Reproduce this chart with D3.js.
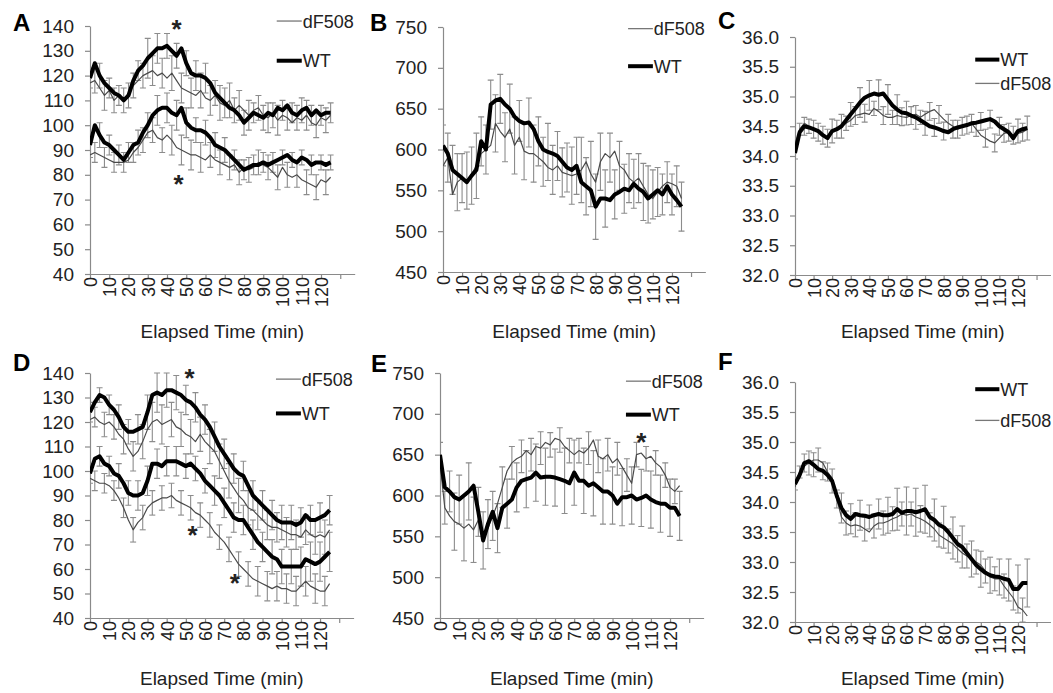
<!DOCTYPE html>
<html>
<head>
<meta charset="utf-8">
<script src="https://cdn.jsdelivr.net/npm/d3@7"></script>
<style>
  body { margin: 0; background: #fff; }
  text { font-family: "Liberation Sans", Arial, sans-serif; fill: #222; }
</style>
</head>
<body>
<svg id="chart" width="1053" height="693"></svg>
<script>
// sample times (min)
const minutes = [0,2.5,5,7.5,10,12.5,15,17.5,20,22.5,25,27.5,30,32.5,35,37.5,40,42.5,45,47.5,50,52.5,55,57.5,60,62.5,65,67.5,70,72.5,75,77.5,80,82.5,85,87.5,90,92.5,95,97.5,100,102.5,105,107.5,110,112.5,115,117.5,120,122.5,125];
// error bars every 5 min
const errMinutes = [0,5,10,15,20,25,30,35,40,45,50,55,60,65,70,75,80,85,90,95,100,105,110,115,120,125];
const xTicks = [0,10,20,30,40,50,60,70,80,90,100,110,120,130];

// A - blood pressure, first condition
const aWtSys = [119,125,120,117,115,113,112,110,112,118,122,124,127,129,131,131,132,130,128,131,125,121,120,120,119,117,113,111,109,107,106,104,101,103,105,104,103,105,104,107,106,108,105,104,106,107,104,106,104,105,105];
const aDfSys = [117,118,115,112,114,110,112,110,113,116,118,120,121,122,120,121,119,121,118,115,114,113,112,114,111,110,112,109,108,110,106,108,106,104,106,107,104,103,105,102,104,103,101,103,102,104,101,100,103,102,104];
const aWtDia = [92,100,96,93,92,90,88,86,89,92,93,97,100,104,106,107,107,105,104,107,101,99,98,98,97,95,92,91,90,88,86,84,82,83,84,84,85,84,85,86,87,88,86,85,87,86,84,85,85,84,85];
const aDfDia = [88,89,88,87,86,85,85,85,86,89,91,94,97,98,95,94,96,94,91,90,89,88,88,87,86,88,86,85,84,83,84,81,83,82,83,85,84,83,81,79,83,80,79,80,78,77,76,75,78,77,79];
const aWtSysErr = [4,5,4,4,5,4,8,6,5,5,5,6,6,5,6,5,5,4,5,5,4,4,5,4,4,4];
const aDfSysErr = [5,6,5,5,5,5,6,6,7,6,6,7,6,7,7,6,6,5,6,6,5,5,6,5,5,5];
const aWtDiaErr = [5,5,4,4,4,5,5,6,6,6,6,5,5,5,5,4,4,4,4,4,3,3,3,4,3,3];
const aDfDiaErr = [4,4,4,4,4,5,5,5,6,6,6,6,5,5,5,5,5,5,5,5,5,5,5,5,5,5];

// B - heart rate, first condition
const bWt = [605,595,575,570,565,560,568,575,610,600,655,660,662,655,650,640,635,632,633,625,610,600,597,595,592,585,578,575,580,560,555,550,530,540,540,538,545,548,552,550,558,552,548,540,545,550,545,555,545,538,530];
const bDf = [580,590,545,560,565,562,570,580,595,600,605,632,622,615,625,605,615,598,595,595,590,585,578,575,580,572,570,568,570,575,585,570,560,585,595,590,598,580,575,565,560,565,555,545,540,548,555,560,558,555,540];
const bWtErr = [25,30,30,35,30,30,30,30,25,30,30,35,30,30,35,35,40,35,30,30,30,35,30,25,25,30];
const bDfErr = [30,35,35,40,30,35,30,35,35,35,30,30,30,35,40,40,35,30,30,30,30,35,30,25,25,30];

// C - body temperature, first condition
const cWt = [34.05,34.4,34.5,34.48,34.45,34.42,34.35,34.3,34.42,34.45,34.5,34.6,34.7,34.8,34.9,34.98,35.02,35.05,35.03,35.05,34.95,34.85,34.78,34.73,34.72,34.68,34.65,34.6,34.55,34.5,34.48,34.45,34.42,34.4,34.45,34.48,34.5,34.52,34.55,34.56,34.58,34.6,34.62,34.58,34.5,34.45,34.4,34.3,34.42,34.45,34.47];
const cDf = [34.2,34.45,34.55,34.5,34.45,34.4,34.35,34.3,34.4,34.45,34.5,34.55,34.6,34.68,34.7,34.72,34.7,34.8,34.75,34.68,34.65,34.65,34.68,34.66,34.65,34.68,34.7,34.65,34.7,34.75,34.78,34.7,34.62,34.55,34.5,34.45,34.5,34.52,34.55,34.45,34.35,34.3,34.25,34.22,34.3,34.38,34.4,34.35,34.38,34.4,34.45];
const cWtErr = [0.1,0.15,0.15,0.15,0.2,0.2,0.2,0.25,0.25,0.25,0.25,0.25,0.2,0.2,0.2,0.15,0.15,0.15,0.15,0.15,0.15,0.15,0.15,0.15,0.2,0.2];
const cDfErr = [0.1,0.12,0.15,0.15,0.15,0.12,0.15,0.15,0.12,0.15,0.12,0.15,0.15,0.12,0.15,0.15,0.15,0.15,0.15,0.12,0.15,0.15,0.15,0.15,0.15,0.15];

// D - blood pressure, second condition
const dWtSys = [124,128,131,130,127,125,122,118,116,116,117,118,124,131,132,131,133,133,132,131,129,128,126,123,121,118,114,110,107,104,101,99,98,94,90,88,86,84,82,80,79,79,79,78,79,82,80,80,81,82,84];
const dDfSys = [121,122,120,119,120,118,115,113,109,106,108,112,117,120,121,119,120,121,118,117,115,114,112,115,112,110,108,104,100,96,93,90,88,85,84,82,80,78,77,77,76,75,74,74,73,76,74,73,74,73,76];
const dWtDia = [99,105,106,103,102,99,98,95,91,90,90,91,96,103,103,102,104,104,104,103,102,103,101,99,96,94,92,90,87,84,81,80,80,77,74,71,69,67,65,64,61,61,61,61,61,64,63,62,63,65,67];
const dDfDia = [97,96,95,95,94,92,89,85,80,76,79,81,85,87,88,89,89,90,88,87,86,85,83,82,80,78,75,73,71,68,65,62,60,58,56,55,54,53,52,53,52,52,51,51,53,55,53,52,51,51,54];
const dWtSysErr = [4,3,4,5,5,6,7,8,7,7,6,6,6,6,6,6,6,6,6,6,7,7,6,6,6,6];
const dDfSysErr = [4,5,5,6,6,7,8,8,7,7,7,7,7,7,7,7,7,6,6,6,6,6,6,7,7,7];
const dWtDiaErr = [4,4,4,5,5,6,6,6,6,6,5,5,5,6,6,6,6,6,6,7,7,7,8,8,8,8];
const dDfDiaErr = [4,4,4,4,5,5,5,5,5,5,5,5,5,5,5,5,5,6,6,6,6,6,6,6,6,6];

// E - heart rate, second condition
const eWt = [650,610,605,598,595,600,605,612,580,545,565,580,560,585,590,595,610,618,620,622,628,622,623,623,622,620,618,615,628,618,618,612,615,610,605,605,600,590,598,598,600,595,597,600,595,592,590,590,585,585,575];
const eDf = [640,585,575,568,565,560,565,558,570,545,560,575,590,610,630,640,645,648,655,650,660,658,665,662,670,668,660,655,650,655,652,658,668,648,645,650,640,645,635,625,615,650,652,645,648,640,635,625,610,605,612];
const eWtErr = [15,25,30,35,30,30,30,30,30,35,35,35,35,40,40,40,40,40,35,35,35,35,35,35,35,30];
const eDfErr = [20,35,40,40,35,30,25,20,20,20,20,15,15,15,15,20,20,20,20,20,15,15,15,15,15,15];

// F - body temperature, second condition
const fWt = [34.3,34.45,34.65,34.68,34.62,34.55,34.52,34.45,34.35,34.1,33.9,33.78,33.72,33.8,33.78,33.77,33.75,33.78,33.8,33.78,33.78,33.8,33.88,33.82,33.85,33.85,33.83,33.85,33.88,33.75,33.7,33.62,33.58,33.5,33.4,33.3,33.25,33.15,33.05,32.95,32.88,32.82,32.78,32.76,32.75,32.72,32.7,32.55,32.55,32.65,32.65];
const fDf = [34.25,34.5,34.6,34.65,34.7,34.7,34.65,34.5,34.4,34.05,33.75,33.65,33.6,33.62,33.6,33.55,33.5,33.6,33.65,33.65,33.68,33.72,33.75,33.8,33.78,33.8,33.75,33.72,33.68,33.62,33.55,33.45,33.4,33.35,33.3,33.22,33.15,33.1,33.05,33.0,32.95,32.85,32.75,32.72,32.72,32.6,32.5,32.4,32.25,32.2,32.1];
const fWtErr = [0.1,0.15,0.2,0.15,0.2,0.25,0.25,0.25,0.2,0.25,0.3,0.35,0.4,0.4,0.4,0.35,0.35,0.35,0.35,0.3,0.3,0.3,0.3,0.35,0.4,0.4];
const fDfErr = [0.1,0.2,0.2,0.15,0.15,0.2,0.2,0.2,0.2,0.2,0.2,0.2,0.2,0.22,0.2,0.2,0.2,0.22,0.2,0.2,0.2,0.2,0.2,0.2,0.2,0.2];

const bpTicks = [40,50,60,70,80,90,100,110,120,130,140];
const hrTicks = [450,500,550,600,650,700,750];
const tTicks = [32,32.5,33,33.5,34,34.5,35,35.5,36];

const svg = d3.select("#chart");

const panels = [
  { id: "A", lx: 13, ly: 31, x0: 90, k: 1.925, top: 26, bot: 274, ticks: bpTicks, fmt: d3.format("d"),
    thin: [[aDfSys, aDfSysErr], [aDfDia, aDfDiaErr]], thick: [[aWtSys, aWtSysErr], [aWtDia, aWtDiaErr]],
    legend: [["dF508", 142, false], ["WT", 126, true]], stars: [[45, 141.5], [46, 79]], title: 338 },
  { id: "B", lx: 370, ly: 31, x0: 443, k: 1.908, top: 27, bot: 272, ticks: hrTicks, fmt: d3.format("d"),
    thin: [[bDf, bDfErr]], thick: [[bWt, bWtErr]],
    legend: [["dF508", 748, false], ["WT", 702, true]], stars: [], title: 338 },
  { id: "C", lx: 718, ly: 29, x0: 795, k: 1.858, top: 37, bot: 275, ticks: tTicks, fmt: d3.format(".1f"),
    thin: [[cDf, cDfErr]], thick: [[cWt, cWtErr]],
    legend: [["WT", 35.62, true], ["dF508", 35.22, false]], stars: [], title: 338 },
  { id: "D", lx: 13, ly: 371, x0: 90, k: 1.917, top: 373, bot: 618, ticks: bpTicks, fmt: d3.format("d"),
    thin: [[dDfSys, dDfSysErr], [dDfDia, dDfDiaErr]], thick: [[dWtSys, dWtSysErr], [dWtDia, dWtDiaErr]],
    legend: [["dF508", 137.5, false], ["WT", 123.5, true]], stars: [[52, 140.5], [53.5, 76.5], [75.5, 57]], title: 685 },
  { id: "E", lx: 371, ly: 372, x0: 440, k: 1.917, top: 373, bot: 618, ticks: hrTicks, fmt: d3.format("d"),
    thin: [[eDf, eDfErr]], thick: [[eWt, eWtErr]],
    legend: [["dF508", 740, false], ["WT", 699, true]], stars: [[105, 674]], title: 685 },
  { id: "F", lx: 718, ly: 370, x0: 795, k: 1.858, top: 382, bot: 622, ticks: tTicks, fmt: d3.format(".1f"),
    thin: [[fDf, fDfErr]], thick: [[fWt, fWtErr]],
    legend: [["WT", 35.88, true], ["dF508", 35.36, false]], stars: [], title: 685 }
];

panels.forEach(function(p) {
  const g = svg.append("g");
  const xEnd = 137.5;
  const x = d3.scaleLinear().domain([0, xEnd]).range([p.x0, p.x0 + xEnd * p.k]);
  const y = d3.scaleLinear().domain([p.ticks[0], p.ticks[p.ticks.length - 1]]).range([p.bot, p.top]);

  // axes
  const yAxis = g.append("g")
    .attr("transform", "translate(" + p.x0 + ",0)")
    .call(d3.axisLeft(y).tickValues(p.ticks).tickFormat(p.fmt).tickSize(5).tickSizeOuter(0).tickPadding(11));
  yAxis.selectAll("text").style("font-size", "19px");

  const xAxis = g.append("g")
    .attr("transform", "translate(0," + p.bot + ")")
    .call(d3.axisBottom(x).tickValues(xTicks).tickFormat(d => d <= 120 ? d : "").tickSize(5).tickSizeOuter(0));
  xAxis.selectAll("text")
    .style("font-size", "18px")
    .attr("transform", "rotate(-90)")
    .attr("text-anchor", "end")
    .attr("x", -3)
    .attr("y", 0)
    .attr("dy", "0.36em");

  g.selectAll(".domain, .tick line").attr("stroke", "#8a8a8a").attr("stroke-width", 1.2);

  // clip at the x axis
  const clipId = "clip" + p.id;
  g.append("clipPath").attr("id", clipId)
    .append("rect").attr("x", p.x0).attr("y", p.top - 20)
    .attr("width", xEnd * p.k).attr("height", p.bot - p.top + 20);
  const plot = g.append("g").attr("clip-path", "url(#" + clipId + ")");

  const line = d3.line()
    .x((d, i) => x(minutes[i]))
    .y(d => y(d));

  // error bars (WT on the 5-min marks, dF508 shifted by 2.5 min)
  const drawErr = function(vals, errs, shift) {
    const pts = errs.map(function(e, i) {
      const t = errMinutes[i] + shift;
      const idx = minutes.indexOf(t);
      return idx < 0 ? null : { t: t, v: vals[idx], e: e };
    }).filter(d => d);
    const eg = plot.append("g").attr("stroke", "#8c8c8c").attr("stroke-width", 1.1);
    eg.selectAll(".v").data(pts).enter().append("line")
      .attr("x1", d => x(d.t)).attr("x2", d => x(d.t))
      .attr("y1", d => y(d.v - d.e)).attr("y2", d => y(d.v + d.e));
    eg.selectAll(".hi").data(pts).enter().append("line")
      .attr("x1", d => x(d.t) - 3).attr("x2", d => x(d.t) + 3)
      .attr("y1", d => y(d.v + d.e)).attr("y2", d => y(d.v + d.e));
    eg.selectAll(".lo").data(pts).enter().append("line")
      .attr("x1", d => x(d.t) - 3).attr("x2", d => x(d.t) + 3)
      .attr("y1", d => y(d.v - d.e)).attr("y2", d => y(d.v - d.e));
  };
  p.thin.forEach(s => drawErr(s[0], s[1], 2.5));
  p.thick.forEach(s => drawErr(s[0], s[1], 0));

  p.thin.forEach(function(s) {
    plot.append("path").datum(s[0])
      .attr("d", line).attr("fill", "none")
      .attr("stroke", "#4a4a4a").attr("stroke-width", 1.2).attr("stroke-linejoin", "round");
  });
  p.thick.forEach(function(s) {
    plot.append("path").datum(s[0])
      .attr("d", line).attr("fill", "none")
      .attr("stroke", "#000").attr("stroke-width", 4).attr("stroke-linejoin", "round");
  });

  // legend
  p.legend.forEach(function(l) {
    g.append("line")
      .attr("x1", x(97)).attr("x2", x(110))
      .attr("y1", y(l[1])).attr("y2", y(l[1]))
      .attr("stroke", l[2] ? "#000" : "#777")
      .attr("stroke-width", l[2] ? 4 : 1.3);
    g.append("text")
      .attr("x", x(110.5)).attr("y", y(l[1])).attr("dy", "0.36em")
      .style("font-size", "18px")
      .text(l[0]);
  });

  // significance marks
  g.selectAll(".star").data(p.stars).enter().append("text")
    .attr("x", d => x(d[0])).attr("y", d => y(d[1])).attr("dy", "0.6em")
    .attr("text-anchor", "middle")
    .style("font-size", "26px").style("font-weight", "bold")
    .text("*");

  // axis title and panel letter
  g.append("text")
    .attr("x", (p.x0 + x(xEnd)) / 2).attr("y", p.title)
    .attr("text-anchor", "middle")
    .style("font-size", "19px")
    .text("Elapsed Time (min)");

  g.append("text")
    .attr("x", p.lx).attr("y", p.ly)
    .style("font-size", "24px").style("font-weight", "bold")
    .style("fill", "#000")
    .text(p.id);
});
</script>
</body>
</html>
